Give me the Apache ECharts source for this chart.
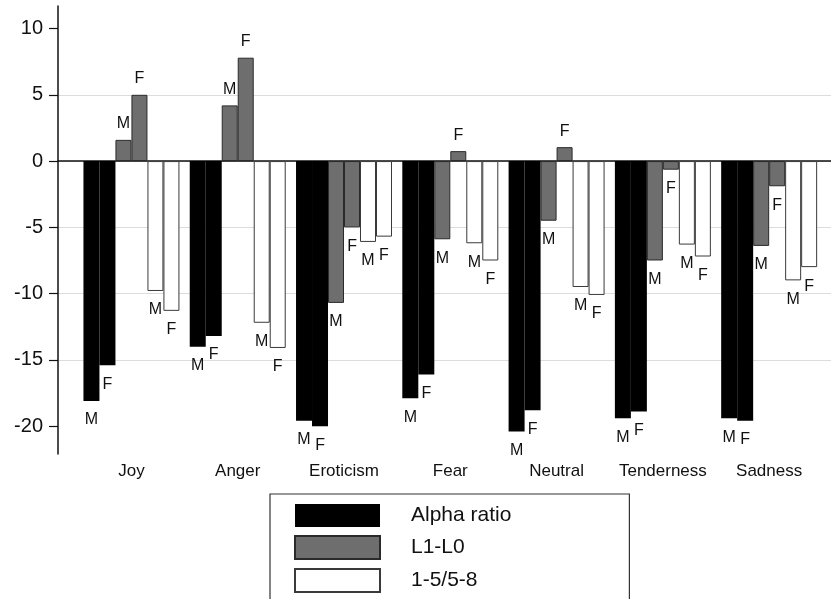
<!DOCTYPE html>
<html>
<head>
<meta charset="utf-8">
<script src="https://cdn.jsdelivr.net/npm/echarts@6/dist/echarts.min.js"></script>
<style>
  html, body { margin: 0; padding: 0; background: #fff; }
  #chart { width: 831px; height: 599px; }
</style>
</head>
<body>
<div id="chart"></div>
<script>
const categories = ['Joy', 'Anger', 'Eroticism', 'Fear', 'Neutral', 'Tenderness', 'Sadness'];

// values, M = male, F = female
const alphaM = [-18.1, -14.0, -19.6, -17.9, -20.4, -19.4, -19.4];
const alphaF = [-15.4, -13.2, -20.0, -16.1, -18.8, -18.9, -19.6];
const l1M = [1.6, 4.2, -10.7, -5.9, -4.5, -7.5, -6.4];
const l1F = [5.0, 7.8, -5.0, 0.75, 1.05, -0.65, -1.9];
const ratioM = [-9.8, -12.2, -6.1, -6.2, -9.5, -6.3, -9.0];
const ratioF = [-11.3, -14.1, -5.7, -7.5, -10.1, -7.2, -8.0];

const yTicks = [-20, -15, -10, -5, 0, 5, 10];
const legendNames = ['Alpha ratio', 'L1-L0', '1-5/5-8'];

const yMin = -22.1;
const yMax = 11.7;
const font = '"Liberation Sans", Arial, Helvetica, sans-serif';

const chart = echarts.init(document.getElementById('chart'));

const toItems = vals => vals.map(v => ({
  value: v,
  label: { distance: v < 0 ? 11 : 8 }
}));

const barSeries = (name, sex, vals, style) => ({
  name: name,
  type: 'bar',
  xAxisIndex: 1,
  yAxisIndex: 1,
  barGap: '0%',
  barCategoryGap: '9.7%',
  data: toItems(vals),
  itemStyle: style,
  label: {
    show: true,
    position: 'outside',
    formatter: sex,
    fontFamily: font,
    fontSize: 16,
    color: '#111'
  },
  emphasis: { disabled: true }
});

const blackStyle = { color: '#000', borderColor: '#000', borderWidth: 0 };
const grayStyle = { color: '#6e6e6e', borderColor: '#2a2a2a', borderWidth: 1 };
const whiteStyle = { color: '#fff', borderColor: '#3a3a3a', borderWidth: 1 };

const option = {
  backgroundColor: '#fff',
  animation: false,
  grid: [
    { left: 58, right: 0, top: 6, bottom: 145 },
    { left: 78.3, right: 8.7, top: 6, bottom: 145 }
  ],
  xAxis: [
    {
      gridIndex: 0,
      type: 'value',
      min: 0,
      max: 1,
      axisLine: { show: true, lineStyle: { color: '#111', width: 1.5 } },
      axisTick: { show: false },
      axisLabel: { show: false },
      splitLine: { show: false }
    },
    {
      gridIndex: 1,
      type: 'category',
      data: categories,
      axisLine: { show: false },
      axisTick: { show: false },
      axisLabel: {
        interval: 0,
        margin: 9,
        fontFamily: font,
        fontSize: 17,
        color: '#111'
      }
    }
  ],
  yAxis: [
    {
      gridIndex: 0,
      type: 'value',
      min: yMin,
      max: yMax,
      axisLine: { show: true, lineStyle: { color: '#111', width: 1.5 } },
      axisTick: {
        show: true,
        length: 9,
        customValues: yTicks,
        lineStyle: { color: '#111', width: 1.2 }
      },
      axisLabel: {
        customValues: yTicks,
        margin: 15,
        fontFamily: font,
        fontSize: 20,
        color: '#111'
      },
      splitLine: {
        show: true,
        showMinLine: false,
        showMaxLine: false,
        lineStyle: { color: '#dcdcdc', width: 1.2 }
      }
    },
    {
      gridIndex: 1,
      type: 'value',
      min: yMin,
      max: yMax,
      show: false
    }
  ],
  legend: {
    orient: 'vertical',
    left: 270,
    top: 494,
    height: 160,
    padding: [10, 118, 20, 24],
    itemWidth: 85,
    itemHeight: 23,
    itemGap: 8,
    backgroundColor: '#fff',
    borderColor: '#333',
    borderWidth: 1.2,
    borderRadius: 0,
    data: legendNames,
    selectedMode: false,
    icon: 'rect',
    textStyle: {
      fontFamily: font,
      fontSize: 21,
      color: '#111',
      padding: [0, 0, 0, 26]
    }
  },
  series: [
    barSeries(legendNames[0], 'M', alphaM, blackStyle),
    barSeries(legendNames[0], 'F', alphaF, blackStyle),
    barSeries(legendNames[1], 'M', l1M, grayStyle),
    barSeries(legendNames[1], 'F', l1F, grayStyle),
    barSeries(legendNames[2], 'M', ratioM, whiteStyle),
    barSeries(legendNames[2], 'F', ratioF, whiteStyle)
  ]
};

chart.setOption(option);
</script>
</body>
</html>
